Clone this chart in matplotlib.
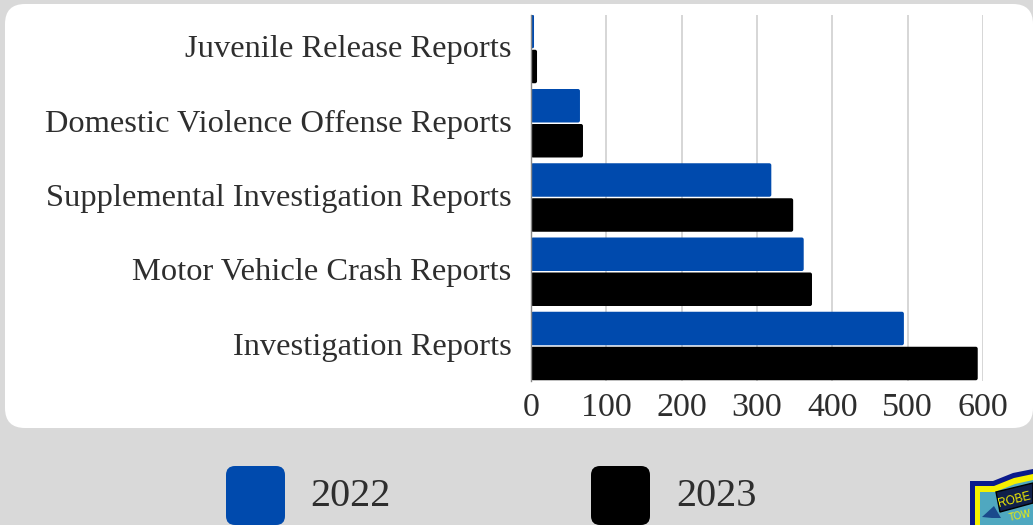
import matplotlib
matplotlib.use("Agg")
import matplotlib.pyplot as plt
from matplotlib.patches import FancyBboxPatch, Polygon
from matplotlib.transforms import ScaledTranslation

plt.rcParams['font.family'] = ['Liberation Serif', 'DejaVu Serif']

categories = ["Juvenile Release Reports", "Domestic Violence Offense Reports",
              "Supplemental Investigation Reports", "Motor Vehicle Crash Reports",
              "Investigation Reports"]
y2022 = [4, 65, 319, 362, 495]
y2023 = [8, 69, 348, 373, 593]
years = ["2022", "2023"]
xticks = [0, 100, 200, 300, 400, 500, 600]

BLUE = "#004aad"
BLACK = "#000000"
TEXT = "#2e2e2e"
W, H = 1033, 525

fig = plt.figure(figsize=(W / 100, H / 100), dpi=100, facecolor="#d9d9d9")

# background layer in pixels
bg = fig.add_axes([0, 0, 1, 1])
bg.set_xlim(0, W)
bg.set_ylim(H, 0)
bg.axis("off")
bg.add_patch(FancyBboxPatch((25, 24), 988, 384, boxstyle="round,pad=20,rounding_size=20",
                            fc="white", ec="none"))

# legend
for x0, col, label, tx in [(226, BLUE, years[0], 310), (591, BLACK, years[1], 676)]:
    bg.add_patch(FancyBboxPatch((x0 + 9, 475), 41, 41, boxstyle="round,pad=9,rounding_size=9",
                                fc=col, ec="none"))
    bg.text(tx, 506, label, fontsize=29, color=TEXT, va="baseline", ha="left")

# badge in the corner
bg.add_patch(Polygon([(970, 481), (993, 481), (1013, 473), (1033, 469),
                      (1033, 525), (970, 525)], fc="#0a1a8c", ec="none"))
bg.add_patch(Polygon([(975, 486), (994, 486), (1014, 478), (1033, 474),
                      (1033, 525), (975, 525)], fc="#f5f000", ec="none"))
bg.add_patch(Polygon([(980, 492), (995, 492), (1015, 484), (1033, 480),
                      (1033, 525), (980, 525)], fc="#4fa8c0", ec="none"))
bg.add_patch(Polygon([(982, 517), (994, 506), (1001, 518), (992, 518)], fc="#1a4a8c", ec="none"))
bg.add_patch(Polygon([(996, 492), (1033, 483), (1033, 503), (1000, 512)], fc="#10204a", ec="black"))
bg.text(999, 507, "ROBE", fontsize=8.5, color="#f5f000", rotation=14, rotation_mode="anchor",
        family="Liberation Sans", va="baseline", ha="left")
bg.text(1010, 521, "TOW", fontsize=7, color="#f5f000", rotation=12, rotation_mode="anchor",
        family="Liberation Sans", va="baseline", ha="left")

# chart
left, right, top, bottom = 531, 983, 15, 381
ax = fig.add_axes([left / W, 1 - bottom / H, (right - left) / W, (bottom - top) / H])
ax.patch.set_alpha(0)

pitch = 74.25
ypos = list(range(len(categories)))
ax.set_xlim(0, 600)
ax.set_ylim((bottom - 49) / pitch, (top - 49) / pitch)

bar_h = 33.5 / pitch
off = 17.5 / pitch
# rounding radius 2 px, expressed in x units; y is squeezed back with mutation_aspect
px_x = 600 / (right - left)
round_x = 2 * px_x
aspect = (1 / pitch) / px_x


def rounded_bar(val, y, col):
    r = min(round_x, val / 2)
    rh = r * aspect
    ax.add_patch(FancyBboxPatch((r, y - bar_h / 2 + rh), val - 2 * r, bar_h - 2 * rh,
                                boxstyle=f"round,pad={r},rounding_size={r}",
                                mutation_aspect=aspect, fc=col, ec="none", zorder=3))


for i, y in enumerate(ypos):
    rounded_bar(y2022[i], y - off, BLUE)
    rounded_bar(y2023[i], y + off, BLACK)

ax.set_xticks(xticks)
ax.set_yticks(ypos)
ax.set_yticklabels(categories)
ax.grid(axis="x", color="#d0d0d0", linewidth=1.2, zorder=0)
ax.set_axisbelow(True)
for s in ["top", "right", "bottom"]:
    ax.spines[s].set_visible(False)
ax.spines["left"].set_color("#888888")
ax.spines["left"].set_linewidth(1)
ax.spines["left"].set_zorder(4)
ax.tick_params(axis="both", length=0)
ax.tick_params(axis="y", pad=14, labelsize=23.4, labelcolor=TEXT)
ax.tick_params(axis="x", pad=8.5, labelsize=24.5, labelcolor=TEXT)

# labels sit a little above the row centre
shift = ScaledTranslation(0, 2.5 / 100, fig.dpi_scale_trans)
for lab in ax.get_yticklabels():
    lab.set_transform(lab.get_transform() + shift)

fig.savefig("out.png", dpi=100, facecolor=fig.get_facecolor())
